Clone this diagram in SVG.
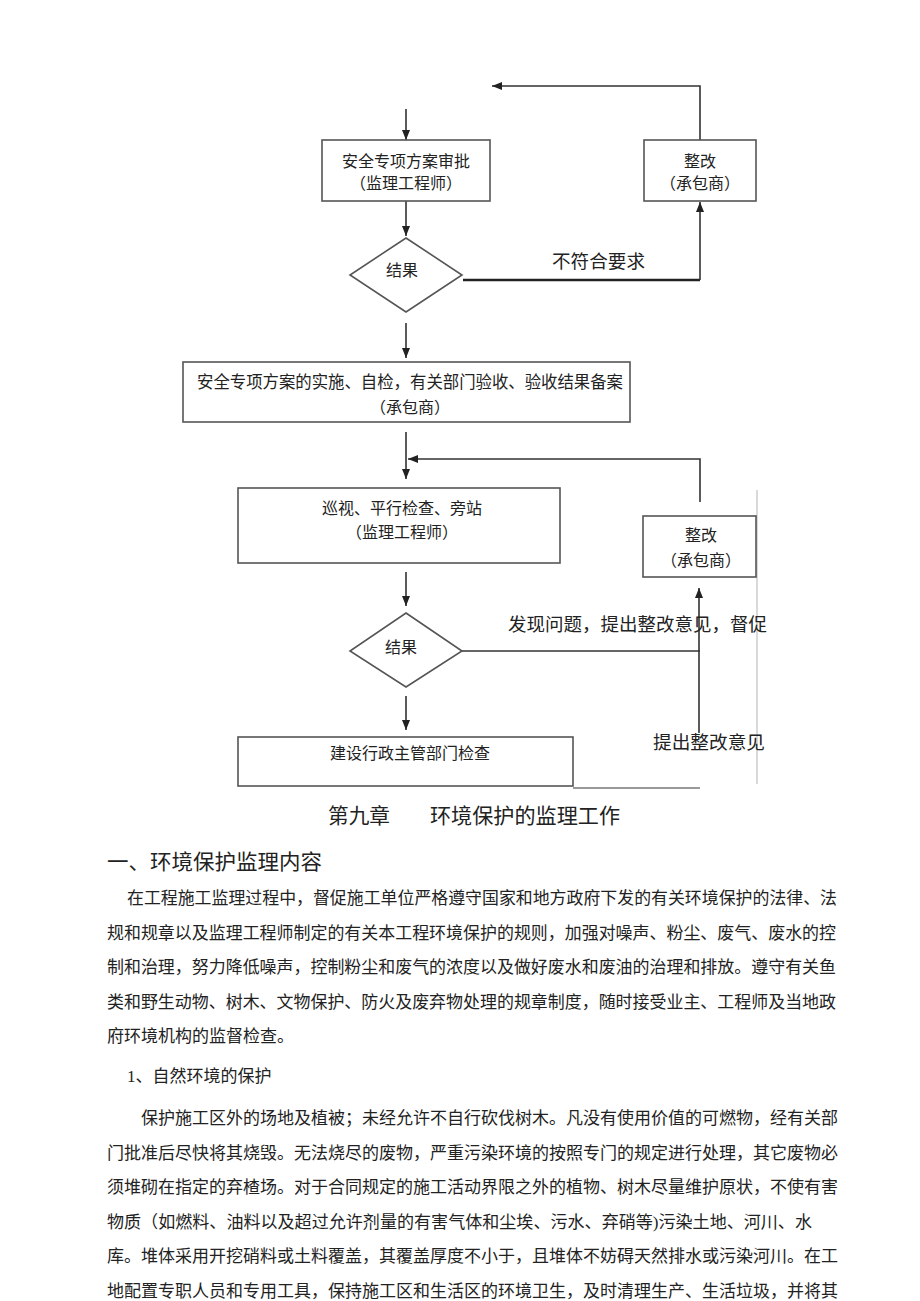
<svg xmlns="http://www.w3.org/2000/svg" width="920" height="1301" viewBox="0 0 920 1301">
<style>
text{font-family:"Liberation Serif","Noto Sans CJK SC",serif;fill:#222}
.box{fill:#fff;stroke:#555;stroke-width:1.6}
.dia{fill:#fff;stroke:#555;stroke-width:1.6}
.t16{font-size:16px;text-anchor:middle}
.t17{font-size:17px}
.lab{font-size:18.5px}
.h{font-size:21px}
.ln{fill:none;stroke:#333;stroke-width:1.6}
.thk{fill:none;stroke:#222;stroke-width:2.6}
.gry{fill:none;stroke:#999;stroke-width:2}
.fnt{fill:none;stroke:#ccc;stroke-width:1.5}
</style>
<defs>
<marker id="ah" markerUnits="userSpaceOnUse" markerWidth="10" markerHeight="10" viewBox="0 0 10 10" refX="10" refY="5" orient="auto">
<path d="M0,1 L10,5 L0,9 z" fill="#222"/>
</marker>
</defs>
<rect width="920" height="1301" fill="#fff"/>
<g id="connectors">
<path class="ln" d="M700,140 V86 H492" marker-end="url(#ah)"/>
<path class="ln" d="M406,109 V140" marker-end="url(#ah)"/>
<path class="ln" d="M406,201 V236" marker-end="url(#ah)"/>
<path class="thk" d="M463,280 H700"/>
<path class="ln" d="M700,280 V202" stroke-width="2" marker-end="url(#ah)"/>
<path class="ln" d="M406,323 V358" marker-end="url(#ah)"/>
<path class="ln" d="M406,432 V479" marker-end="url(#ah)"/>
<path class="ln" d="M700,502 V459 H408" marker-end="url(#ah)"/>
<path class="ln" d="M406,572 V606" marker-end="url(#ah)"/>
<path class="ln" d="M462,651 H700"/>
<path class="ln" d="M699,733 V588" stroke-width="2.2" marker-end="url(#ah)"/>
<path class="ln" d="M406,696 V730" marker-end="url(#ah)"/>
<path class="gry" d="M573,788 H700"/>
<path class="fnt" d="M757,490 V784"/>
</g>
<g id="n-approve">
<rect class="box" x="322" y="140" width="168" height="61"/>
<text class="t16" x="406" y="167">安全专项方案审批</text>
<text class="t16" x="406" y="189">（监理工程师）</text>
</g>
<g id="n-rectify1">
<rect class="box" x="644" y="140" width="112" height="61"/>
<text class="t16" x="700" y="167">整改</text>
<text class="t16" x="700" y="189">（承包商）</text>
</g>
<g id="n-result1">
<polygon class="dia" points="406,238 462,275 406,312 350,275"/>
<text class="t16" x="402" y="276">结果</text>
</g>
<text class="lab" x="552" y="268" textLength="93" lengthAdjust="spacingAndGlyphs">不符合要求</text>
<g id="n-implement">
<rect class="box" x="183" y="362" width="447" height="60"/>
<text class="t17" x="197" y="388" textLength="426" lengthAdjust="spacingAndGlyphs">安全专项方案的实施、自检，有关部门验收、验收结果备案</text>
<text class="t16" x="410" y="413">（承包商）</text>
</g>
<g id="n-inspect">
<rect class="box" x="238" y="488" width="322" height="75"/>
<text class="t16" x="402" y="514">巡视、平行检查、旁站</text>
<text class="t16" x="402" y="538">（监理工程师）</text>
</g>
<g id="n-rectify2">
<rect class="box" x="643" y="516" width="113" height="61"/>
<text class="t16" x="701" y="541">整改</text>
<text class="t16" x="701" y="566">（承包商）</text>
</g>
<text class="lab" x="508" y="631" textLength="259" lengthAdjust="spacingAndGlyphs">发现问题，提出整改意见，督促</text>
<g id="n-result2">
<polygon class="dia" points="406,613 462,651 406,687 350,651"/>
<text class="t16" x="401" y="653">结果</text>
</g>
<g id="n-admin">
<rect class="box" x="238" y="737" width="335" height="49"/>
<text class="t16" x="410" y="759">建设行政主管部门检查</text>
</g>
<text class="lab" x="653" y="749" textLength="112" lengthAdjust="spacingAndGlyphs">提出整改意见</text>
<text class="h" x="328" y="823" textLength="62" lengthAdjust="spacingAndGlyphs">第九章</text>
<text class="h" x="430" y="823" textLength="190" lengthAdjust="spacingAndGlyphs">环境保护的监理工作</text>
<text class="h" x="107" y="869" textLength="215" lengthAdjust="spacingAndGlyphs">一、环境保护监理内容</text>
<g class="t17">
<text x="127" y="904" textLength="710" lengthAdjust="spacingAndGlyphs">在工程施工监理过程中，督促施工单位严格遵守国家和地方政府下发的有关环境保护的法律、法</text>
<text x="107" y="939" textLength="729" lengthAdjust="spacingAndGlyphs">规和规章以及监理工程师制定的有关本工程环境保护的规则，加强对噪声、粉尘、废气、废水的控</text>
<text x="107" y="973" textLength="729" lengthAdjust="spacingAndGlyphs">制和治理，努力降低噪声，控制粉尘和废气的浓度以及做好废水和废油的治理和排放。遵守有关鱼</text>
<text x="107" y="1008" textLength="729" lengthAdjust="spacingAndGlyphs">类和野生动物、树木、文物保护、防火及废弃物处理的规章制度，随时接受业主、工程师及当地政</text>
<text x="107" y="1042">府环境机构的监督检查。</text>
<text x="127" y="1082">1、自然环境的保护</text>
<text x="141" y="1124" textLength="697" lengthAdjust="spacingAndGlyphs">保护施工区外的场地及植被；未经允许不自行砍伐树木。凡没有使用价值的可燃物，经有关部</text>
<text x="107" y="1159" textLength="731" lengthAdjust="spacingAndGlyphs">门批准后尽快将其烧毁。无法烧尽的废物，严重污染环境的按照专门的规定进行处理，其它废物必</text>
<text x="107" y="1193" textLength="731" lengthAdjust="spacingAndGlyphs">须堆砌在指定的弃楂场。对于合同规定的施工活动界限之外的植物、树木尽量维护原状，不使有害</text>
<text x="107" y="1228" textLength="705" lengthAdjust="spacingAndGlyphs">物质（如燃料、油料以及超过允许剂量的有害气体和尘埃、污水、弃硝等)污染土地、河川、水</text>
<text x="107" y="1262" textLength="731" lengthAdjust="spacingAndGlyphs">库。堆体采用开挖硝料或土料覆盖，其覆盖厚度不小于，且堆体不妨碍天然排水或污染河川。在工</text>
<text x="107" y="1297" textLength="731" lengthAdjust="spacingAndGlyphs">地配置专职人员和专用工具，保持施工区和生活区的环境卫生，及时清理生产、生活垃圾，并将其</text>
</g>
</svg>
